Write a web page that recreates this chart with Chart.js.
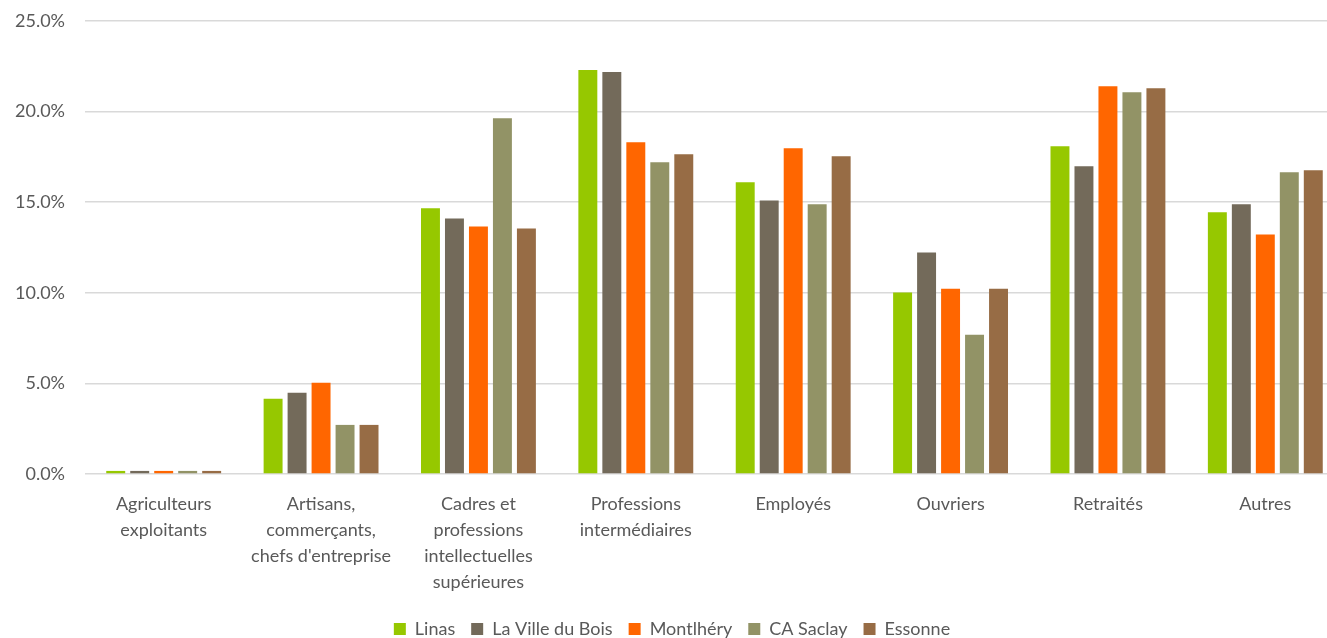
<!DOCTYPE html>
<html>
<head>
<meta charset="utf-8">
<script src="https://cdn.jsdelivr.net/npm/chart.js@4.4.1/dist/chart.umd.min.js"></script>
<style>
  html, body { margin: 0; padding: 0; background: #fff; overflow: hidden; }
  #chartContainer { position: absolute; left: 0; top: 0; width: 1350px; height: 648px; }
</style>
</head>
<body>
<div id="chartContainer"><canvas id="myChart"></canvas></div>
<script>
const categories = [
  ['Agriculteurs', 'exploitants'],
  ['Artisans,', 'commerçants,', "chefs d'entreprise"],
  ['Cadres et', 'professions', 'intellectuelles', 'supérieures'],
  ['Professions', 'intermédiaires'],
  'Employés',
  'Ouvriers',
  'Retraités',
  'Autres'
];

const seriesNames = ['Linas', 'La Ville du Bois', 'Montlhéry', 'CA Saclay', 'Essonne'];
const seriesColors = ['#96C800', '#736A5A', '#FF6600', '#929366', '#976C45'];

const linas = [0.17, 4.15, 14.66, 22.29, 16.1, 10.01, 18.09, 14.44];
const villeDuBois = [0.17, 4.48, 14.1, 22.18, 15.1, 12.22, 16.98, 14.88];
const montlhery = [0.17, 5.03, 13.66, 18.31, 17.98, 10.23, 21.4, 13.22];
const caSaclay = [0.17, 2.71, 19.63, 17.2, 14.88, 7.69, 21.07, 16.65];
const essonne = [0.17, 2.71, 13.55, 17.64, 17.53, 10.23, 21.29, 16.76];

const seriesValues = [linas, villeDuBois, montlhery, caSaclay, essonne];

const textColor = '#595959';
const gridColor = '#d9d9d9';
const fontFamily = 'Lato, "Noto Sans", sans-serif';

function buildDatasets() {
  let datasets = [];
  for (let i = 0; i < seriesNames.length; i++) {
    datasets.push({
      label: seriesNames[i],
      data: seriesValues[i],
      backgroundColor: seriesColors[i],
      borderWidth: 0,
      categoryPercentage: 0.762,
      barPercentage: 0.79
    });
  }
  return datasets;
}

const ctx = document.getElementById('myChart').getContext('2d');
const myChart = new Chart(ctx, {
  type: 'bar',
  data: {
    labels: categories,
    datasets: buildDatasets()
  },
  options: {
    maintainAspectRatio: false,
    responsive: true,
    animation: false,
    layout: {
      padding: { top: 21, right: 6, left: 0, bottom: 0 }
    },
    plugins: {
      legend: {
        position: 'bottom',
        labels: {
          boxWidth: 12,
          boxHeight: 12,
          padding: 16,
          color: textColor,
          font: { family: fontFamily, size: 18 }
        }
      },
      tooltip: { enabled: false }
    },
    scales: {
      x: {
        grid: { display: false, drawTicks: false },
        border: { display: false },
        ticks: {
          color: textColor,
          padding: 17,
          maxRotation: 0,
          autoSkip: false,
          font: { family: fontFamily, size: 18, lineHeight: 1.45 }
        },
        afterFit: function (scale) {
          scale.height = 130;
        }
      },
      y: {
        min: 0,
        max: 25,
        grid: { color: gridColor, lineWidth: 1.5, drawTicks: false },
        border: { display: false },
        ticks: {
          stepSize: 5,
          padding: 20,
          color: textColor,
          font: { family: fontFamily, size: 18 },
          callback: function (value) {
            return value.toFixed(1) + '%';
          }
        },
        afterFit: function (scale) {
          scale.width = 85;
          scale.paddingTop = 0;
          scale.paddingBottom = 0;
        }
      }
    }
  }
});
</script>
</body>
</html>
